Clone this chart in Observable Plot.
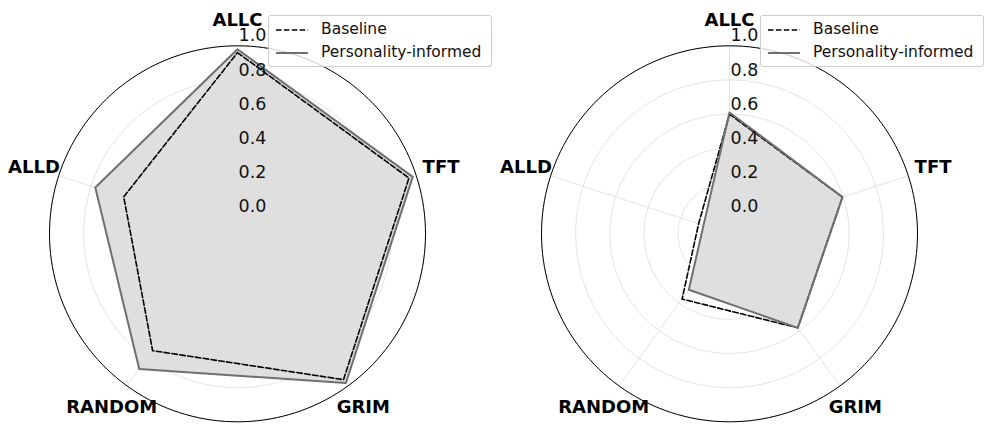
<!DOCTYPE html>
<html>
<head>
<meta charset="utf-8">
<script src="https://cdn.jsdelivr.net/npm/d3@7"></script>
<script src="https://cdn.jsdelivr.net/npm/@observablehq/plot@0.6"></script>
<style>
  html, body { margin: 0; padding: 0; background: #fff; }
  #wrap { position: relative; width: 984px; height: 425px; overflow: hidden; font-family: "DejaVu Sans", sans-serif; }
  .panel { position: absolute; top: 0; width: 492px; height: 425px; }
  .legend { position: absolute; left: 268px; top: 15px; width: 224px; height: 52px;
    border: 1px solid #cccccc; border-radius: 3px; background: rgba(255,255,255,0.8); box-sizing: border-box; }
  .legend svg { position: absolute; left: 6px; width: 34px; height: 6px; }
  .legend span { position: absolute; left: 52px; font-size: 15.5px; line-height: 18px; color: #111; white-space: nowrap; }
</style>
</head>
<body>
<div id="wrap"></div>
<script>
// ---- data ----
const categories = ["ALLC", "TFT", "GRIM", "RANDOM", "ALLD"];
const seriesNames = ["Baseline", "Personality-informed"];
const baselineLeft = [0.96, 0.955, 0.955, 0.745, 0.60];
const personalityLeft = [0.98, 0.978, 0.979, 0.878, 0.775];
const baselineRight = [0.60, 0.595, 0.58, 0.372, 0.09];
const personalityRight = [0.61, 0.595, 0.58, 0.305, 0.06];
const tickValues = [0.0, 0.2, 0.4, 0.6, 0.8, 1.0];
const tickLabels = ["0.0", "0.2", "0.4", "0.6", "0.8", "1.0"];
const radialMin = -0.1, radialMax = 1.0;

// ---- geometry helpers ----
const W = 492, H = 425, cx = 237, cy = 233.3, R = 188;
const k = R / (radialMax - radialMin); // px per unit
const angleOf = i => (90 - i * 72) * Math.PI / 180;
const rad = v => v - radialMin;
const pt = (v, i) => ({x: rad(v) * Math.cos(angleOf(i)), y: rad(v) * Math.sin(angleOf(i))});
const circle = v => d3.range(0, 361, 2).map(a => ({x: rad(v) * Math.cos(a * Math.PI / 180), y: rad(v) * Math.sin(a * Math.PI / 180)}));

function chart(baseline, personality) {
  const basePts = baseline.map((v, i) => pt(v, i));
  const persPts = personality.map((v, i) => pt(v, i));
  const rings = tickValues.flatMap(v => circle(v).map(p => ({...p, ring: v})));
  const spokes = categories.map((c, i) => ({x1: 0, y1: 0, ...(() => { const p = pt(radialMax, i); return {x2: p.x, y2: p.y}; })()}));
  const labelR = 214 / k;
  const catLabels = categories.map((c, i) => ({name: c, x: labelR * Math.cos(angleOf(i)), y: labelR * Math.sin(angleOf(i))}));
  const ticks = tickValues.map((v, j) => ({x: 0, y: rad(v), label: tickLabels[j]}));
  return Plot.plot({
    width: W, height: H, margin: 0,
    x: {type: "linear", domain: [-cx / k, (W - cx) / k], range: [0, W], axis: null},
    y: {type: "linear", domain: [-(H - cy) / k, cy / k], range: [H, 0], axis: null},
    style: {fontFamily: "DejaVu Sans, sans-serif", background: "transparent"},
    marks: [
      Plot.line(rings, {x: "x", y: "y", z: "ring", stroke: "#dcdcdc", strokeWidth: 0.8}),
      Plot.link(spokes, {x1: "x1", y1: "y1", x2: "x2", y2: "y2", stroke: "#dcdcdc", strokeWidth: 0.8}),
      Plot.line(circle(radialMax), {x: "x", y: "y", stroke: "#000", strokeWidth: 1}),
      Plot.line(persPts, {x: "x", y: "y", curve: "linear-closed", fill: "#dfdfdf", stroke: "none"}),
      Plot.line(basePts, {x: "x", y: "y", curve: "linear-closed", stroke: "#000", strokeWidth: 1.6, strokeDasharray: "5.5,2.4"}),
      Plot.line(persPts, {x: "x", y: "y", curve: "linear-closed", stroke: "#6f6f6f", strokeWidth: 2}),
      Plot.text(ticks, {x: "x", y: "y", text: "label", textAnchor: "start", lineAnchor: "middle", dx: 1, dy: -10, fontSize: 17.5, fill: "#111"}),
      Plot.text(catLabels, {x: "x", y: "y", text: "name", textAnchor: "middle", lineAnchor: "middle", fontSize: 18, fontWeight: "bold", fill: "#000"})
    ]
  });
}

function legend() {
  const d = document.createElement("div");
  d.className = "legend";
  d.innerHTML = `
    <svg style="top:11px" viewBox="0 0 34 6"><line x1="1" y1="3" x2="33" y2="3" stroke="#000" stroke-width="1.6" stroke-dasharray="5.5,2.4"/></svg>
    <span style="top:4px">${seriesNames[0]}</span>
    <svg style="top:34px" viewBox="0 0 34 6"><line x1="1" y1="3" x2="33" y2="3" stroke="#6f6f6f" stroke-width="2"/></svg>
    <span style="top:27px">${seriesNames[1]}</span>`;
  return d;
}

const wrap = document.getElementById("wrap");
[[baselineLeft, personalityLeft, 0], [baselineRight, personalityRight, 492]].forEach(([b, p, left]) => {
  const panel = document.createElement("div");
  panel.className = "panel";
  panel.style.left = left + "px";
  panel.appendChild(chart(b, p));
  panel.appendChild(legend());
  wrap.appendChild(panel);
});
</script>
</body>
</html>
